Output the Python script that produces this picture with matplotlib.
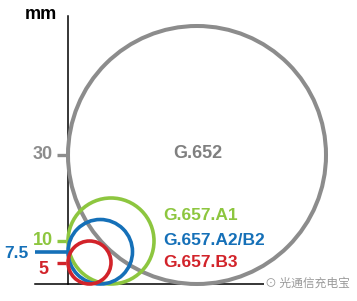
import matplotlib
matplotlib.use("Agg")
import matplotlib.pyplot as plt
from matplotlib.patches import Circle

# bend radius of each fibre type, mm
fibres = ["G.652", "G.657.A1", "G.657.A2/B2", "G.657.B3"]
radii = [30, 10, 7.5, 5]
colors = ["#8c8c8c", "#8dc63f", "#1570b8", "#d2232a"]
tick_labels = ["30", "10", "7.5", "5"]

px = 4.3  # pixels per mm
W, H = 357, 301
ox, oy = 68, 17  # origin in pixels from left/bottom

fig = plt.figure(figsize=(W / 100, H / 100), dpi=100)
ax = fig.add_axes([0, 0, 1, 1])
ax.set_xlim(-ox / px, (W - ox) / px)
ax.set_ylim(-oy / px, (H - oy) / px)
ax.axis("off")

font = ["Liberation Sans", "DejaVu Sans"]

# axes lines
ax.plot([0, 0], [0, 62.3], color="black", lw=1.1, zorder=1)
ax.plot([-7.7, 64.5], [0, 0], color="black", lw=1.1, zorder=1)
ax.text(-2.6, 62.6, "mm", ha="right", va="center", fontsize=13,
        fontweight="bold", family=font)

# circles, tangent to both axes
widths = [2.9, 2.6, 2.6, 2.6]
for r, c, lw in zip(radii, colors, widths):
    ax.add_patch(Circle((r, r), r, fill=False, ec=c, lw=lw, zorder=2))

# ticks
for r, c, lab in zip(radii, colors, tick_labels):
    if lab == "7.5":
        ax.plot([-7.7, 0], [r, r], color=c, lw=2.6, solid_capstyle="butt")
        ax.text(-9.2, r - 0.3, lab, ha="right", va="center", color=c,
                fontsize=12.5, fontweight="bold", family=font)
    else:
        ax.plot([-2.6, -0.45], [r, r], color=c, lw=2.4, solid_capstyle="butt")
        dy = -1.7 if lab == "5" else 0.2
        dx = -4.6 if lab == "5" else -3.6
        ax.text(dx, r + dy, lab, ha="right", va="center", color=c,
                fontsize=13, fontweight="bold", family=font)

# labels
ax.text(radii[0] + 0.3, radii[0] + 0.4, fibres[0], ha="center", va="center",
        color="#808080", fontsize=13, fontweight="bold", family=font)
label_y = [16.0, 10.2, 5.1]
for name, c, y in zip(fibres[1:], colors[1:], label_y):
    ax.text(22.2, y, name, ha="left", va="center", color=c,
            fontsize=12.5, fontweight="bold", family=font)

# watermark
ax.text(45.8, 0.1, "⊙ 光通信充电宝", ha="left", va="center", color="#9a9a9a",
        fontsize=8.5, family=["Noto Sans CJK SC", "DejaVu Sans"], zorder=5,
        bbox=dict(fc="white", ec="none", pad=0.5))

fig.savefig("out.png", dpi=100)
